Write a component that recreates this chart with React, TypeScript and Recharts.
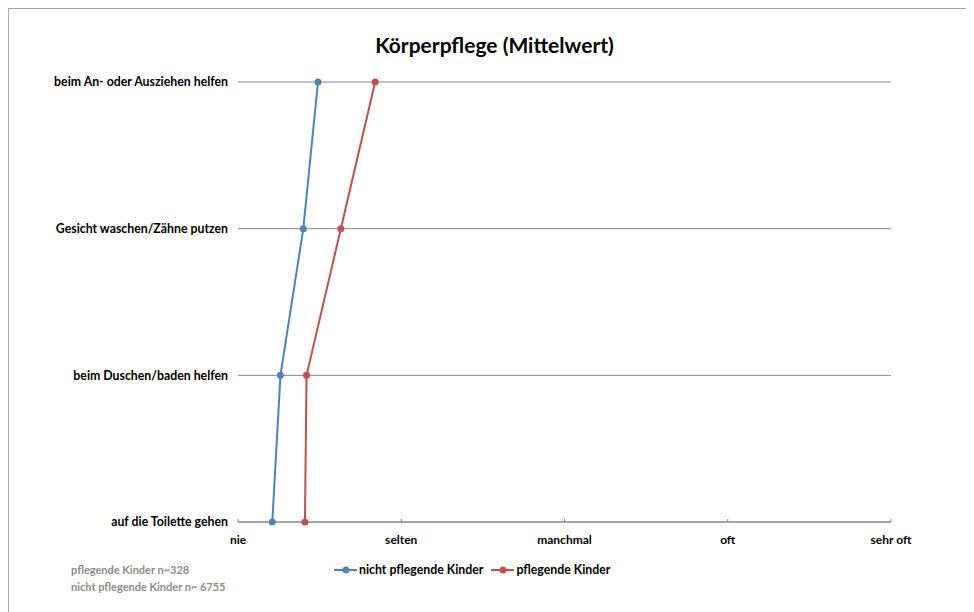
import React from "react";
import {
  LineChart,
  Line,
  XAxis,
  YAxis,
  CartesianGrid,
} from "recharts";

const categories = [
  "beim An- oder Ausziehen helfen",
  "Gesicht waschen/Zähne putzen",
  "beim Duschen/baden helfen",
  "auf die Toilette gehen",
];
const nichtPflegend = [1.49, 1.4, 1.26, 1.21];
const pflegend = [1.84, 1.63, 1.42, 1.41];
const scaleLabels = ["nie", "selten", "manchmal", "oft", "sehr oft"];
const scaleTicks = [1, 2, 3, 4, 5];

const FONT = "Lato, 'Open Sans', 'Liberation Sans', sans-serif";
const BLUE = "#4f81bd";
const RED = "#c0504d";
const GRID = "#868686";

const data = categories.map((c, i) => ({
  category: c,
  nicht: nichtPflegend[i],
  pflegend: pflegend[i],
}));

const LegendItem = ({ color, label }: { color: string; label: string }) => (
  <span style={{ display: "inline-flex", alignItems: "center", marginRight: 8 }}>
    <svg width={24} height={10} style={{ marginRight: 1 }}>
      <line x1={0} y1={5} x2={23} y2={5} stroke={color} strokeWidth={2} />
      <circle cx={12} cy={5} r={3.5} fill={color} />
    </svg>
    {label}
  </span>
);

export default function App() {
  return (
    <div
      style={{
        position: "relative",
        width: 965,
        height: 603,
        borderTop: "1px solid #a6a6a6",
        borderLeft: "1px solid #a6a6a6",
        fontFamily: FONT,
        background: "#fff",
      }}
    >
      <div
        style={{
          position: "absolute",
          left: 0,
          width: 971,
          top: 23,
          textAlign: "center",
          fontSize: 21,
          fontWeight: 700,
          color: "#000",
        }}
      >
        Körperpflege (Mittelwert)
      </div>

      <LineChart
        width={965}
        height={603}
        data={data}
        layout="vertical"
        margin={{ top: 73, right: 83, bottom: 60, left: 0 }}
      >
        <CartesianGrid horizontal vertical={false} stroke={GRID} />
        <XAxis
          type="number"
          domain={[1, 5]}
          ticks={scaleTicks}
          tickFormatter={(v: number) => scaleLabels[v - 1]}
          height={30}
          axisLine={{ stroke: GRID }}
          tickLine={{ stroke: GRID }}
          tickSize={-3}
          tickMargin={16}
          tick={{ fill: "#000", fontSize: 12, fontWeight: 700, fontFamily: FONT }}
          interval={0}
        />
        <YAxis
          type="category"
          dataKey="category"
          scale="point"
          width={229}
          axisLine={false}
          tickLine={false}
          tickSize={0}
          tickMargin={10}
          tick={{ fill: "#000", fontSize: 12.3, fontWeight: 700, fontFamily: FONT }}
          interval={0}
        />
        <Line
          dataKey="nicht"
          name="nicht pflegende Kinder"
          stroke={BLUE}
          strokeWidth={2}
          dot={{ r: 3.5, fill: BLUE, stroke: BLUE, strokeWidth: 0 }}
          isAnimationActive={false}
        />
        <Line
          dataKey="pflegend"
          name="pflegende Kinder"
          stroke={RED}
          strokeWidth={2}
          dot={{ r: 3.5, fill: RED, stroke: RED, strokeWidth: 0 }}
          isAnimationActive={false}
        />
      </LineChart>

      <div
        style={{
          position: "absolute",
          left: 325,
          top: 553,
          display: "flex",
          alignItems: "center",
          fontSize: 12.3,
          fontWeight: 700,
          color: "#000",
        }}
      >
        <LegendItem color={BLUE} label="nicht pflegende Kinder" />
        <LegendItem color={RED} label="pflegende Kinder" />
      </div>

      <div
        style={{
          position: "absolute",
          left: 62,
          top: 552,
          fontSize: 11,
          fontWeight: 700,
          color: "#8c8c8c",
          lineHeight: "17px",
        }}
      >
        <div>pflegende Kinder n~328</div>
        <div>nicht pflegende Kinder n~ 6755</div>
      </div>
    </div>
  );
}
